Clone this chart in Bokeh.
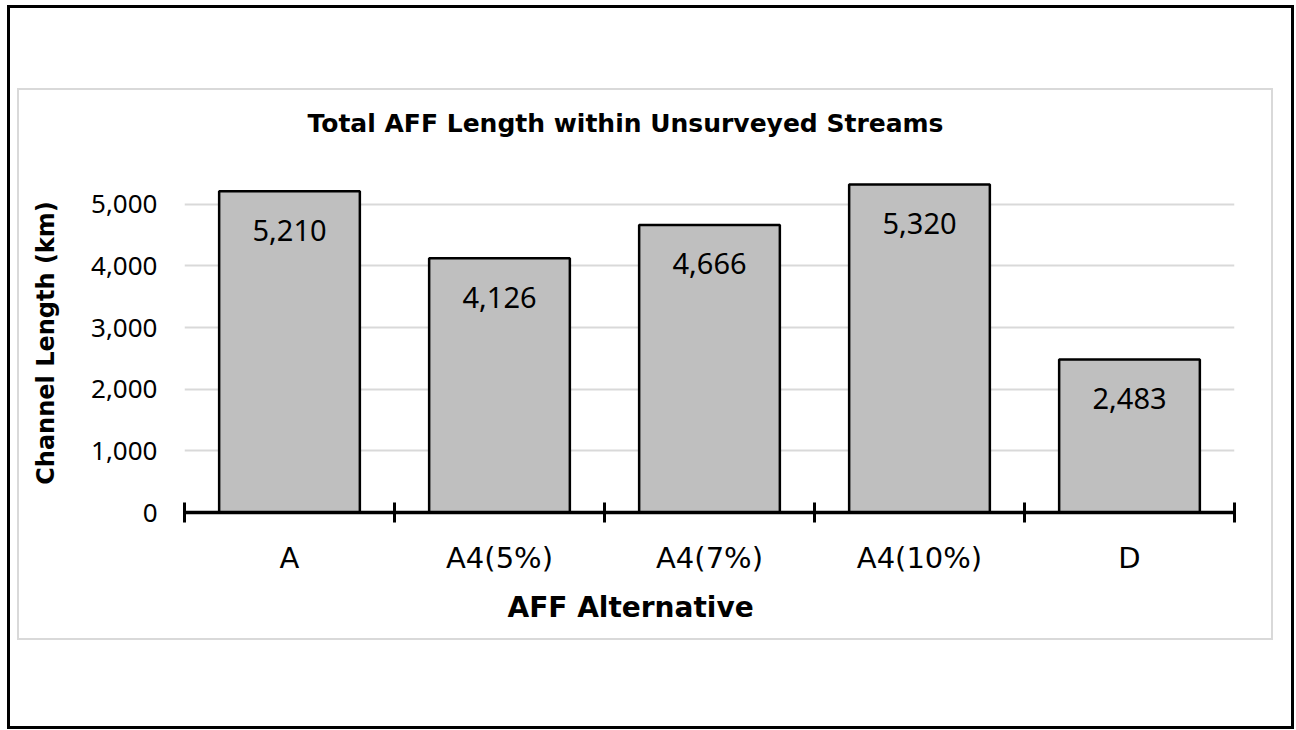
from bokeh.plotting import figure
from bokeh.layouts import column
from bokeh.models import (FactorRange, Range1d, LinearAxis, FixedTicker, NumeralTickFormatter,
                          ColumnDataSource, LabelSet, Title)
from bokeh.core.properties import value
from bokeh.embed import file_html
from bokeh.resources import INLINE

# ---- data ----
categories = ["A", "A4(5%)", "A4(7%)", "A4(10%)", "D"]
lengths_km = [5210, 4126, 4666, 5320, 2483]
y_ticks = [0, 1000, 2000, 3000, 4000, 5000]
title_text = "Total AFF Length within Unsurveyed Streams"
x_title = "AFF Alternative"
y_title = "Channel Length (km)"

NUM_FONT = "Noto Sans"
TXT_FONT = "DejaVu Sans"
W, H = 1252, 548

src = ColumnDataSource(dict(cat=categories, val=lengths_km,
                            label=[f"{v:,}" for v in lengths_km]))

p = figure(width=W, height=H,
           x_range=FactorRange(*categories, range_padding=0),
           y_range=Range1d(0, 5500),
           output_backend="svg", toolbar_location=None,
           min_border_left=165, min_border_right=37,
           min_border_top=83, min_border_bottom=126)
p.outline_line_color = None
p.background_fill_color = "white"
p.border_fill_color = "white"

# title
p.title.text = title_text
p.title.text_font = TXT_FONT
p.title.text_font_size = "25px"
p.title.text_font_style = "bold"
p.title.text_color = "black"
p.title.align = "left"
p.title.offset = 123
p.title.vertical_align = "top"
if "padding" in Title.properties():
    p.title.standoff = 0
    p.title.padding = dict(left=0, right=0, top=0, bottom=34)
else:
    p.title.standoff = 51

# bars
p.vbar(x="cat", top="val", width=0.67, source=src,
       fill_color="#bfbfbf", line_color="black", line_width=2.5)

p.add_layout(LabelSet(x="cat", y="val", text="label", source=src,
                      y_offset=-39, text_align="center", text_baseline="middle",
                      text_font=value(NUM_FONT), text_font_size="29px", text_color="black"))

# y axis
ya = p.yaxis[0]
ya.ticker = FixedTicker(ticks=y_ticks)
ya.formatter = NumeralTickFormatter(format="0,0")
ya.axis_line_color = None
ya.major_tick_in = 0
ya.major_tick_out = 0
ya.minor_tick_in = 0
ya.minor_tick_out = 0
ya.major_label_standoff = 27
ya.major_label_text_font = NUM_FONT
ya.major_label_text_font_size = "26px"
ya.major_label_text_color = "black"
ya.axis_label = y_title
ya.axis_label_text_font = TXT_FONT
ya.axis_label_text_font_size = "24px"
ya.axis_label_text_font_style = "bold"
ya.axis_label_text_color = "black"
ya.axis_label_standoff = 28

p.ygrid.grid_line_color = "#d9d9d9"
p.ygrid.grid_line_width = 2
p.xgrid.grid_line_color = None

# x axes: boundary ticks (between categories) + category labels
boundary_ticks = list(range(len(categories) + 1))
tick_axis = LinearAxis(ticker=FixedTicker(ticks=boundary_ticks),
                       axis_line_width=3.5, axis_line_color="black",
                       major_tick_in=10, major_tick_out=10,
                       major_tick_line_width=3, major_tick_line_color="black",
                       minor_tick_in=0, minor_tick_out=0,
                       major_label_text_color=None,
                       major_label_text_font_size="1px", major_label_standoff=0)

xa = p.xaxis[0]
xa.axis_line_color = None
xa.major_tick_in = 0
xa.major_tick_out = 0
xa.major_label_standoff = 18
xa.major_label_text_font = TXT_FONT
xa.major_label_text_font_size = "29px"
xa.major_label_text_color = "black"
p.below = [tick_axis] + list(p.below)

p.add_layout(Title(text=x_title, align="left", offset=323, standoff=22,
                   text_font=TXT_FONT, text_font_size="28px", text_font_style="bold",
                   text_color="black"), "below")

# chart-area border (light grey) and outer page frame (black)
inner = column(p, styles={"border": "2px solid #d9d9d9"})
outer = column(inner, margin=(5, 0, 0, 7),
               styles={"border": "3px solid black", "padding": "80px 18px 86px 7px"})

open("out.html", "w").write(file_html(outer, INLINE))
